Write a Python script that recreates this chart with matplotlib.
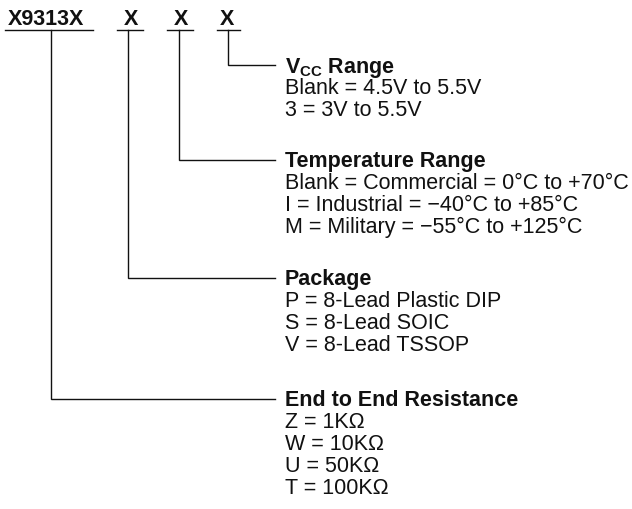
import matplotlib
matplotlib.use("Agg")
import matplotlib.pyplot as plt

plt.rcParams['font.family'] = ['Liberation Sans', 'DejaVu Sans']
plt.rcParams['mathtext.fontset'] = 'custom'
plt.rcParams['mathtext.rm'] = 'Liberation Sans'
plt.rcParams['mathtext.bf'] = 'Liberation Sans:bold'

# ordering code fields
code_parts = ["X9313X", "X", "X", "X"]

titles = [r"$\mathbf{V_{CC}}$ Range",
          "Temperature Range",
          "Package",
          "End to End Resistance"]

vcc_opts = ["Blank = 4.5V to 5.5V",
            "3 = 3V to 5.5V"]
temp_opts = ["Blank = Commercial = 0°C to +70°C",
             "I = Industrial = \u221240°C to +85°C",
             "M = Military = \u221255°C to +125°C"]
pkg_opts = ["P = 8-Lead Plastic DIP",
            "S = 8-Lead SOIC",
            "V = 8-Lead TSSOP"]
res_opts = ["Z = 1K\u03a9",
            "W = 10K\u03a9",
            "U = 50K\u03a9",
            "T = 100K\u03a9"]
options = [vcc_opts, temp_opts, pkg_opts, res_opts]

# layout (pixels)
ink = '#111111'
fs = 15.5
part_x = [8, 124, 174, 220]           # left of each code text
under = [(5, 93), (117, 143), (167, 193), (217, 240)]
stem_x = [51, 128, 179, 228]
title_y = [65, 160, 278, 399]        # line centre of each title
line_step = 21.8
text_x = 285
lead_end = 275
under_y = 29.5

fig = plt.figure(figsize=(6.32, 5.09), dpi=100)
ax = fig.add_axes([0, 0, 1, 1])
ax.set_xlim(0, 632)
ax.set_ylim(509, 0)
ax.axis('off')

for i, p in enumerate(code_parts):
    ax.text(part_x[i], 25, p, fontsize=fs, fontweight='bold', color=ink,
            va='baseline', ha='left')
    ax.plot(under[i], [under_y, under_y], color=ink, lw=1.0)

# field i of the list goes to code part (3 - i)
for i, t in enumerate(titles):
    k = 3 - i
    yc = title_y[i]
    ax.plot([stem_x[k], stem_x[k], lead_end], [under_y, yc, yc],
            color=ink, lw=1.0, solid_joinstyle='miter')
    ax.text(text_x, yc + 7.5, t, fontsize=fs, fontweight='bold', color=ink,
            va='baseline', ha='left')
    for j, o in enumerate(options[i]):
        ax.text(text_x, yc + 7.5 + (j + 1) * line_step, o, fontsize=fs,
                color=ink, va='baseline', ha='left')

fig.savefig("out.png", dpi=100)
